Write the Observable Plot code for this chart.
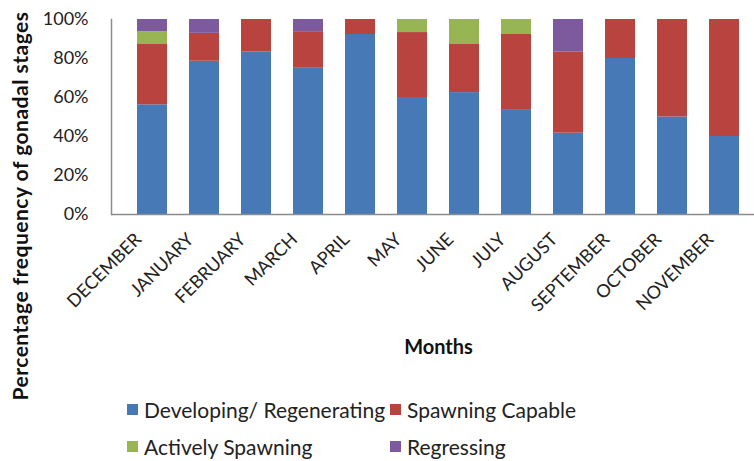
<!DOCTYPE html>
<html>
<head>
<meta charset="utf-8">
<script src="https://cdn.jsdelivr.net/npm/d3@7"></script>
<script src="https://cdn.jsdelivr.net/npm/@observablehq/plot@0.6"></script>
<style>
  body { margin: 0; background: #fff; font-family: Lato, "Noto Sans", sans-serif; }
  #wrap { position: relative; width: 754px; height: 461px; overflow: hidden; }
  #legend { position: absolute; left: 127px; top: 397px; display: grid;
    grid-template-columns: 263px auto; row-gap: 13px; font-size: 21px; color: #222; }
  .item { display: flex; align-items: center; height: 24px; }
  .sw { width: 11px; height: 11px; margin-right: 6px; }
</style>
</head>
<body>
<div id="wrap"><div id="chart"></div><div id="legend"></div></div>
<script>
const months = ["DECEMBER","JANUARY","FEBRUARY","MARCH","APRIL","MAY","JUNE","JULY","AUGUST","SEPTEMBER","OCTOBER","NOVEMBER"];
const stages = ["Developing/ Regenerating","Spawning Capable","Actively Spawning","Regressing"];
const developing = [56.25, 78.6, 83.3, 75, 92.3, 60, 62.5, 53.8, 41.7, 80, 50, 40];
const spawningCapable = [31.25, 14.3, 16.7, 18.75, 7.7, 33.3, 25, 38.5, 41.7, 20, 50, 60];
const activelySpawning = [6.25, 0, 0, 0, 0, 6.7, 12.5, 7.7, 0, 0, 0, 0];
const regressing = [6.25, 7.1, 0, 6.25, 0, 0, 0, 0, 16.6, 0, 0, 0];
const yTicks = [0, 20, 40, 60, 80, 100];
const colors = ["#4679B5", "#B9433F", "#97B552", "#7C5A9D"];
const yTitle = "Percentage frequency of gonadal stages";

const series = [developing, spawningCapable, activelySpawning, regressing];
const data = [];
series.forEach((vals, si) => vals.forEach((v, mi) => data.push({month: months[mi], stage: stages[si], value: v})));

const chart = Plot.plot({
  width: 754,
  height: 395,
  marginTop: 19,
  marginBottom: 181,
  marginLeft: 111,
  marginRight: 0,
  style: {fontFamily: "Lato, 'Noto Sans', sans-serif", color: "#222", background: "#fff", overflow: "visible"},
  x: {domain: months, range: [111.3, 763.7], padding: 0.43, label: null},
  y: {domain: [0, 100], label: null},
  color: {domain: stages, range: colors},
  marks: [
    Plot.barY(data, {x: "month", y: "value", fill: "stage", order: stages, inset: 0}),
    Plot.axisY({ticks: yTicks, tickFormat: d => d + "%", tickSize: 0, tickPadding: 23, fontSize: 18, label: null}),
    Plot.axisX({tickSize: 0, tickRotate: -45, tickPadding: 22, dx: -14, fontSize: 18, label: null}),
    Plot.ruleY([0], {stroke: "#8c8c8c", strokeWidth: 1.5}),
    Plot.frame({anchor: "left", stroke: "#8c8c8c", strokeWidth: 1.5}),
    Plot.text([yTitle], {frameAnchor: "left", textAnchor: "middle", rotate: -90, dx: -90, dy: 89, fontSize: 21, fontWeight: "bold", fill: "#111"}),
    Plot.text(["Months"], {frameAnchor: "bottom", dx: 5.5, dy: 139, fontSize: 20, fontWeight: "bold", fill: "#111"})
  ]
});
d3.select(chart).selectAll("text").filter(function() { return this.textContent === yTitle; }).style("letter-spacing", "0.5px");
document.getElementById("chart").appendChild(chart);

const legend = document.getElementById("legend");
stages.forEach((s, i) => {
  const d = document.createElement("div");
  d.className = "item";
  d.innerHTML = `<span class="sw" style="background:${colors[i]}"></span><span>${s}</span>`;
  legend.appendChild(d);
});
</script>
</body>
</html>
